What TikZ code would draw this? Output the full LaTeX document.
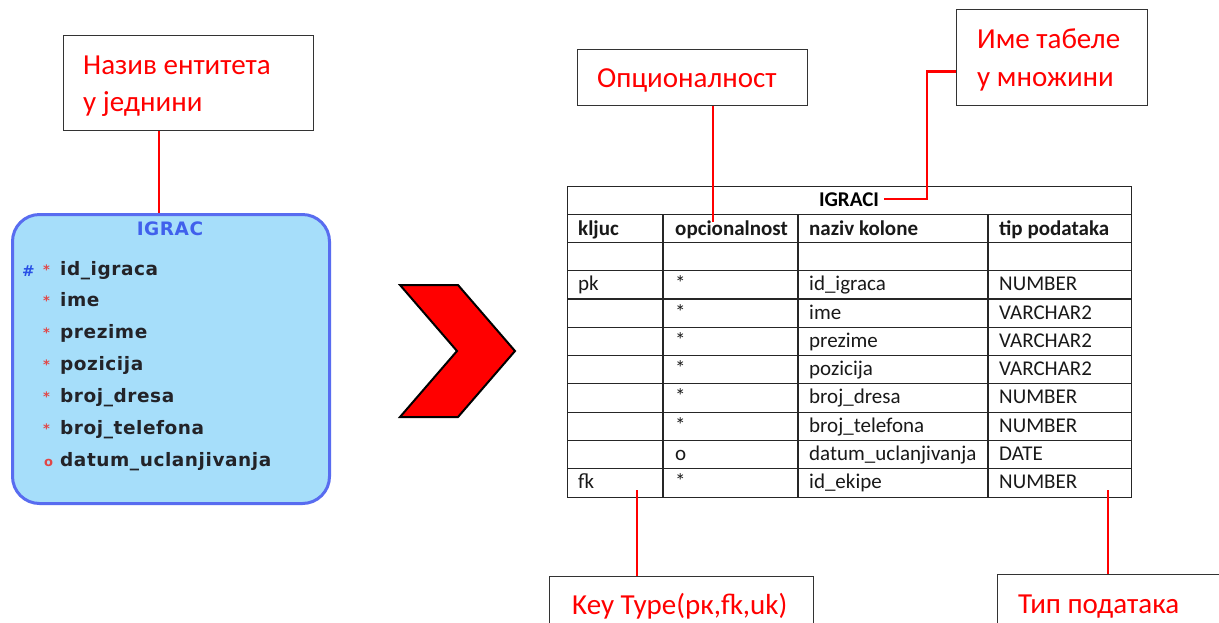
\documentclass[tikz,border=0pt]{standalone}
\usepackage{fontspec}
\setmainfont{Carlito}
\newfontfamily\erdfont{DejaVu Sans}[LetterSpace=3]
\newfontfamily\erdmark{DejaVu Sans}
\definecolor{lblred}{RGB}{255,0,0}
\definecolor{entfill}{RGB}{166,222,250}
\definecolor{entdraw}{RGB}{88,108,240}
\definecolor{enttitle}{RGB}{64,96,236}
\definecolor{entmark}{RGB}{225,70,70}
\definecolor{enthash}{RGB}{40,80,230}
\definecolor{enttext}{RGB}{35,35,40}
\tikzset{
  lbox/.style={draw=black!80, line width=1.3pt, fill=white, inner sep=0pt, anchor=north west},
  ltext/.style={anchor=base west, inner sep=0pt, font=\fontsize{29}{35}\selectfont, text=lblred},
  conn/.style={draw=lblred, line width=2.8pt},
  tline/.style={draw=black!85, line width=1.2pt},
  tcell/.style={anchor=base west, inner sep=0pt, font=\fontsize{21}{24}\selectfont, text=black!90},
  thead/.style={anchor=base west, inner sep=0pt, font=\bfseries\fontsize{21}{24}\selectfont, text=black!90},
  entrow/.style={anchor=base west, inner sep=0pt, font=\erdfont\bfseries\fontsize{18.5}{22}\selectfont, text=enttext},
  entstar/.style={anchor=base west, inner sep=0pt, font=\erdmark\bfseries\fontsize{13}{15}\selectfont, text=entmark},
}
\begin{document}
\begin{tikzpicture}[x=1pt,y=-1pt]
\useasboundingbox (0,0) rectangle (1219,622);
\clip (0,0) rectangle (1219,622);
\fill[white] (0,0) rectangle (1219,622);

% ---------- entity ----------
\node[draw=entdraw, line width=3pt, fill=entfill, rounded corners=27pt, anchor=north west,
      minimum width=317pt, minimum height=289pt, inner sep=0pt] (ent) at (11,213) {};
\node[font=\erdfont\bfseries\fontsize{18.5}{22}\selectfont, text=enttitle, inner sep=0pt] (enttitle) at (170,229) {IGRAC};
\node[entstar, text=enthash, font=\erdmark\bfseries\fontsize{15}{17}\selectfont] (hash) at (22,276) {\#};
\foreach \t [count=\i from 0] in {id\_igraca,ime,prezime,pozicija,broj\_dresa,broj\_telefona}{
  \node[entstar] (star\i) at (43,{274+31.8*\i}) {*};
  \node[entrow] (att\i) at (60,{275+31.8*\i}) {\t};
}
\node[entstar] (opt6) at (44,466) {o};
\node[entrow] (att6) at (60,466) {datum\_uclanjivanja};

% ---------- chevron ----------
\filldraw[fill=red, draw=black, line width=2pt, line join=miter]
  (400,285) -- (458,285) -- (515,351) -- (458,417) -- (400,417) -- (457,351) -- cycle;

% ---------- table ----------
\node[tline, anchor=north west, minimum width=564pt, minimum height=311pt, inner sep=0pt] (tbl) at (567,186) {};
\foreach \k in {1,...,10}{
  \draw[tline] (567,{186+28.27*\k}) -- (1131,{186+28.27*\k});
}
\foreach \x in {663,798,988}{
  \draw[tline] (\x,214.3) -- (\x,497);
}
\node[anchor=base, inner sep=5pt, font=\bfseries\fontsize{21}{24}\selectfont] (igraci) at (849,206.5) {IGRACI};
\node[thead] (h1) at (578,235) {kljuc};
\node[thead] (h2) at (675,235) {opcionalnost};
\node[thead] (h3) at (809,235) {naziv kolone};
\node[thead] (h4) at (999,235) {tip podataka};
\foreach \a/\b/\c/\d [count=\i from 3] in {
  pk/*/id\_igraca/NUMBER,
  /*/ime/VARCHAR2,
  /*/prezime/VARCHAR2,
  /*/pozicija/VARCHAR2,
  /*/broj\_dresa/NUMBER,
  /*/broj\_telefona/NUMBER,
  /o/datum\_uclanjivanja/DATE,
  fk/*/id\_ekipe/NUMBER}{
  \node[tcell] (k\i) at (578,{186+28.27*\i+20}) {\a};
  \node[tcell] (o\i) at (675,{186+28.27*\i+20}) {\b};
  \node[tcell] (n\i) at (809,{186+28.27*\i+20}) {\c};
  \node[tcell] (t\i) at (999,{186+28.27*\i+20}) {\d};
}

% ---------- label boxes ----------
\node[lbox, minimum width=250pt, minimum height=95pt] (naziv) at (63,35) {};
\node[ltext] (naziv1) at (83,74) {Назив ентитета};
\node[ltext] (naziv2) at (83,111.5) {у једнини};
\node[lbox, minimum width=230pt, minimum height=56pt] (opc) at (577,49) {};
\node[ltext] (opct) at (597,87.5) {Опционалност};
\node[lbox, minimum width=191pt, minimum height=96pt] (ime) at (956,9) {};
\node[ltext] (ime1) at (977,48) {Име табеле};
\node[ltext] (ime2) at (977,86) {у множини};
\node[lbox, minimum width=264pt, minimum height=56pt] (keyt) at (549,576) {};
\node[ltext] (keytt) at (572,614) {Key Type(рк,fk,uk)};
\node[lbox, minimum width=230pt, minimum height=56pt] (tip) at (997,574) {};
\node[ltext] (tipt) at (1018,613) {Тип података};

% ---------- connectors ----------
\coordinate (opcend) at (713,222);
\coordinate (imebend) at (927,199);
\coordinate (fkpt) at (637,490);
\coordinate (typt) at (1108,490);
\draw[conn] ([xshift=96pt]naziv.south west) -- ([xshift=96pt]naziv.south west |- ent.north);
\draw[conn] ([xshift=136pt]opc.south west) -- (opcend);
\draw[conn] ([yshift=-14pt]ime.west) -| (imebend) -- (imebend -| igraci.east);
\draw[conn] ([xshift=88pt]keyt.north west) -- (fkpt);
\draw[conn] ([xshift=111pt]tip.north west) -- (typt);
\end{tikzpicture}
\end{document}
